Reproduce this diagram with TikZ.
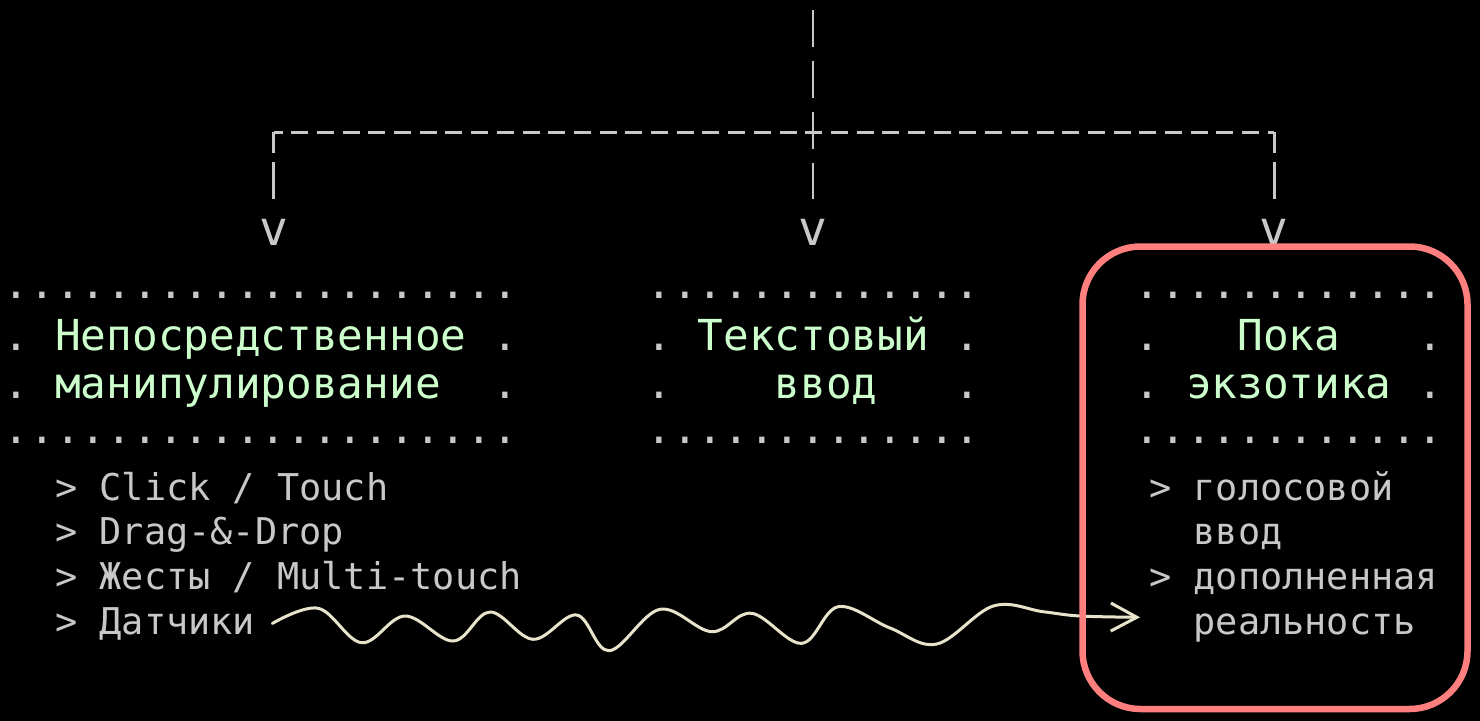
\documentclass[tikz,border=0pt]{standalone}
\usepackage{fontspec}
\usetikzlibrary{arrows.meta}
\newfontfamily\asciifont{DejaVu Sans Mono}[WordSpace={1,0,0},PunctuationSpace=0]
\definecolor{asciigray}{HTML}{C8C8C8}
\definecolor{titlegreen}{HTML}{CCFFCC}
\definecolor{wavecream}{HTML}{E8E4CC}
\definecolor{boxred}{HTML}{FF7F7F}
\tikzset{
  boxtext/.style={font=\asciifont\frenchspacing\fontsize{42.7bp}{48bp}\selectfont,
    inner sep=0pt, anchor=base west, text=asciigray},
  itemtext/.style={font=\asciifont\frenchspacing\fontsize{36.9bp}{44bp}\selectfont,
    inner sep=0pt, anchor=base west, text=asciigray},
  vmark/.style={font=\asciifont\fontsize{48bp}{48bp}\selectfont, inner sep=0pt, text=asciigray},
  asciirule/.style={draw=asciigray, line width=2.4bp},
  hdash/.style={asciirule, dash pattern=on 17bp off 8.7bp, dash phase=8bp},
  vdash/.style={asciirule, dash pattern=on 37bp off 14bp},
  cdash/.style={asciirule, dash pattern=on 20.5bp off 9bp on 40bp off 20bp},
  wave/.style={draw=wavecream, line width=3bp, line cap=round, line join=round},
}
\newcommand\ttl[1]{\textcolor{titlegreen}{#1}}

\begin{document}
\begin{tikzpicture}[x=1bp,y=-1bp]
\fill[black] (0,0) rectangle (1480,721);
\useasboundingbox (0,0) rectangle (1480,721);

% tree of connectors
\node[vmark] (vLeft) at (273.5,232) {v};
\node[vmark] (vMid) at (813.2,232) {v};
\node[vmark] (vRight) at (1274.3,232) {v};
\coordinate (top) at (813.2,10);
\coordinate (cornerL) at (273.5,132.5);
\coordinate (cornerR) at (1274.3,132.5);
\draw[hdash] (cornerL) -- (cornerR);
\draw[vdash, shorten >=20bp] (top) -- (vMid.north);
\draw[cdash, shorten >=20bp] (cornerL) -- (vLeft.north);
\draw[cdash, shorten >=20bp] (cornerR) -- (vRight.north);

% left box
\node[boxtext] (directTop) at (3.6,298) {....................};
\node[boxtext] (directA) at (3.6,350) {.~\ttl{Непосредственное}~.};
\node[boxtext] (directB) at (3.6,398) {.~\ttl{манипулирование}~~.};
\node[boxtext] (directBot) at (3.6,443) {....................};

% middle box
\node[boxtext] (textTop) at (646.1,298) {.............};
\node[boxtext] (textA) at (646.1,350) {.~\ttl{Текстовый}~.};
\node[boxtext] (textB) at (646.1,398) {.~~~~\ttl{ввод}~~~.};
\node[boxtext] (textBot) at (646.1,443) {.............};

% right box
\node[boxtext] (exoticTop) at (1134.4,298) {............};
\node[boxtext] (exoticA) at (1134.4,350) {.~~~\ttl{Пока}~~~.};
\node[boxtext] (exoticB) at (1134.4,398) {.~\ttl{экзотика}~.};
\node[boxtext] (exoticBot) at (1134.4,443) {............};

% lists
\node[itemtext] (click) at (55,500) {> Click / Touch};
\node[itemtext] (drag) at (55,544.7) {> Drag-\&-Drop};
\node[itemtext] (gesture) at (55,589.4) {> Жесты / Multi-touch};
\node[itemtext] (sensors) at (55,634) {> Датчики};
\node[itemtext] (voice) at (1149,500) {> голосовой};
\node[itemtext] (voiceB) at (1193.4,544.7) {ввод};
\node[itemtext] (augment) at (1149,589.4) {> дополненная};
\node[itemtext] (augmentB) at (1193.4,634) {реальность};

% wavy arrow
\coordinate (waveStart) at ([xshift=17bp]sensors.east);
\coordinate (waveEnd) at (1140,617.3);
\draw[wave, -{Straight Barb[length=26bp,width=28bp]}] plot[smooth, tension=0.6] coordinates {
  (waveStart) (318.3,608.3) (361.7,642.7) (405,616) (453.3,641) (490,612)
  (533.3,639.3) (576.7,615) (609.3,650.7) (660,609.3) (711.7,631.7)
  (751.7,613.3) (801.7,643.3) (838.3,606.7) (890,628) (936.7,644)
  (993.3,606) (1043,611.7) (1080,616) (waveEnd)};

\draw[boxred, line width=6.5bp, rounded corners=58bp] (1082.5,246.5) rectangle (1467.5,709);
\end{tikzpicture}
\end{document}
